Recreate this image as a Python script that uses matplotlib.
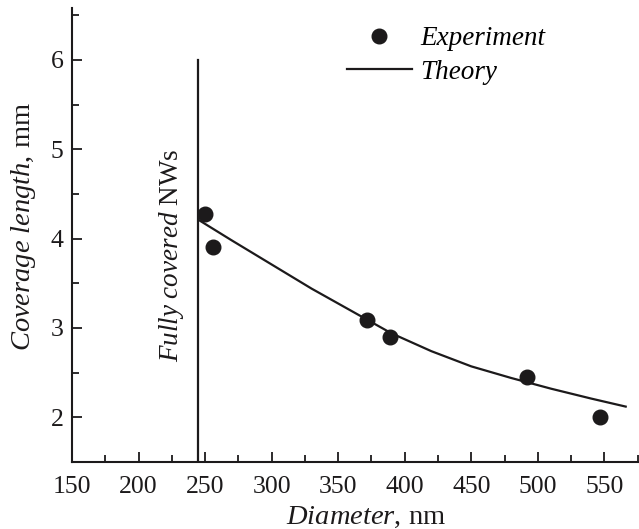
import matplotlib
matplotlib.use('Agg')
import matplotlib.pyplot as plt
from matplotlib.ticker import MultipleLocator

# experiment points
exp_d = [250, 256, 372, 389, 492, 547]
exp_len = [4.28, 3.91, 3.09, 2.90, 2.45, 2.00]

# theory curve
th_d = [245, 270, 300, 330, 360, 390, 420, 450, 480, 510, 540, 566]
th_len = [4.21, 3.98, 3.71, 3.44, 3.19, 2.94, 2.74, 2.57, 2.44, 2.32, 2.21, 2.12]

full_cover_d = 244.5
full_cover_top = 6.0

ink = '#1c1a1b'

plt.rcParams['font.family'] = ['Liberation Serif', 'DejaVu Serif']
plt.rcParams['mathtext.fontset'] = 'custom'
plt.rcParams['mathtext.rm'] = 'Liberation Serif'
plt.rcParams['mathtext.it'] = 'Liberation Serif:italic'
plt.rcParams['font.size'] = 18.5

fig = plt.figure(figsize=(6.39, 5.29), dpi=100)
ax = fig.add_axes([72/639, 1-462/529, 1-72/639, (462-8)/529])

ax.plot(th_d, th_len, color=ink, lw=1.6, label='Theory', zorder=2)
ax.plot(exp_d, exp_len, 'o', color=ink, ms=10.5, label='Experiment', zorder=3)
ax.plot([full_cover_d, full_cover_d], [1.5, full_cover_top], color=ink, lw=1.6)

ax.text(225, 3.81, r'$\it{Fully\ covered}$ NWs', rotation=90,
        ha='center', va='center', color=ink, fontsize=19.5)

ax.set_xlim(150, 576)
ax.set_ylim(1.5, 6.58)
ax.xaxis.set_major_locator(MultipleLocator(50))
ax.xaxis.set_minor_locator(MultipleLocator(25))
ax.yaxis.set_major_locator(MultipleLocator(1))
ax.yaxis.set_minor_locator(MultipleLocator(0.5))

ax.spines['top'].set_visible(False)
ax.spines['right'].set_visible(False)
for s in ('left', 'bottom'):
    ax.spines[s].set_linewidth(1.5)
    ax.spines[s].set_color(ink)

ax.tick_params(which='both', direction='in', width=1.3, colors=ink)
ax.tick_params(which='major', length=7)
ax.tick_params(which='minor', length=5)
ax.tick_params(axis='x', pad=10)
ax.tick_params(axis='y', pad=6)

ax.set_xlabel(r'$\it{Diameter}$, nm', color=ink, fontsize=20.5, labelpad=5)
ax.set_ylabel(r'$\it{Coverage\ length}$, mm', color=ink, fontsize=20.5, labelpad=9)
ax.xaxis.label.set_x(0.518)
ax.yaxis.label.set_y(0.518)

h, l = ax.get_legend_handles_labels()
leg = ax.legend(h[::-1], l[::-1], loc='upper left',
                bbox_to_anchor=(347/639, 1-26/529), bbox_transform=fig.transFigure,
                frameon=False, borderpad=0, borderaxespad=0, handlelength=2.4,
                handletextpad=0.3, labelspacing=0.33,
                prop={'family': 'Liberation Serif', 'style': 'italic', 'size': 19.5})

fig.savefig('out.png', dpi=100)
